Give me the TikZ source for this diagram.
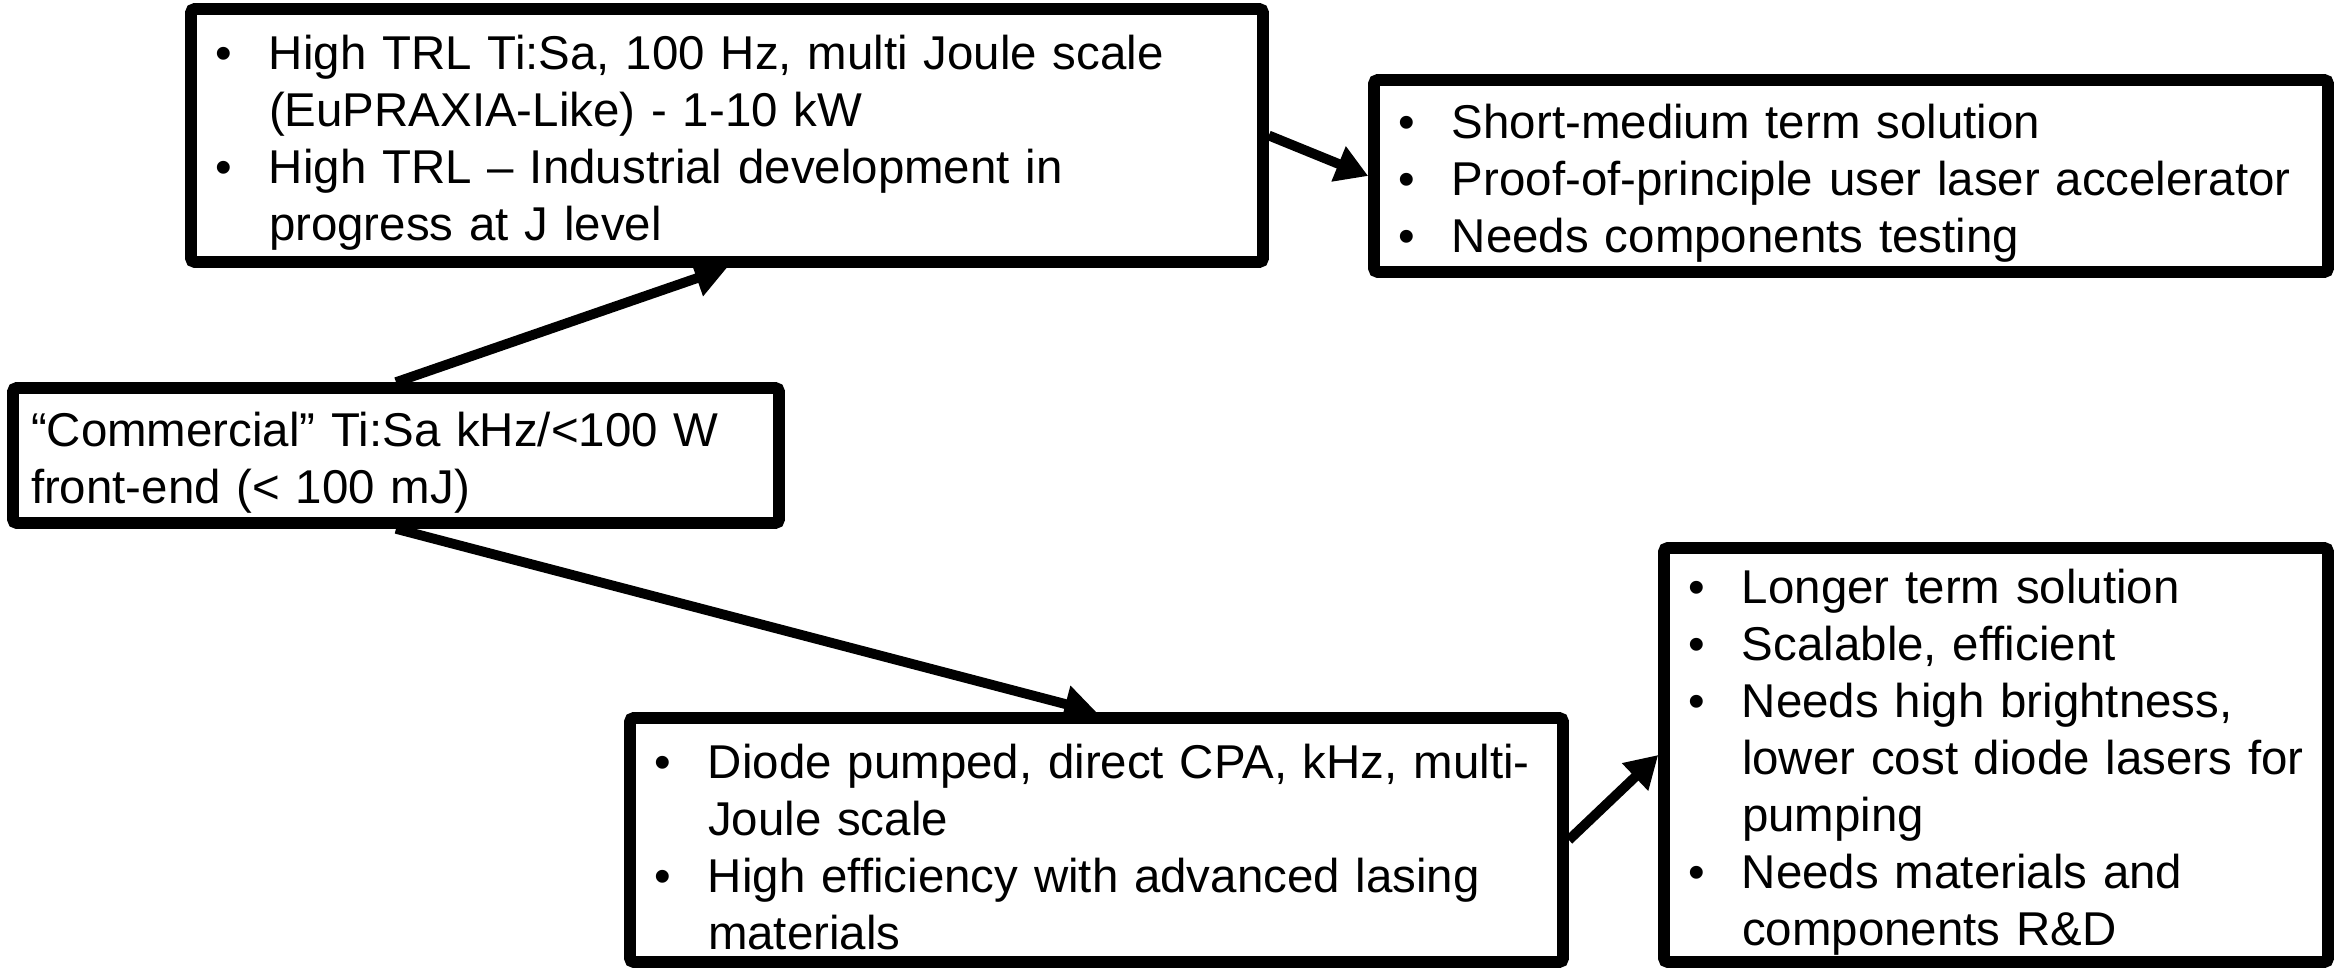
\documentclass[tikz,border=0pt]{standalone}
\usepackage{fontspec}
\setmainfont{Liberation Sans}
\usetikzlibrary{arrows.meta}

\newcommand{\bpt}[1]{\makebox[0.54cm][l]{\textbullet}\mbox{#1}}
\newcommand{\cnt}[1]{\hspace*{0.54cm}\mbox{#1}}

\tikzset{
    box/.style={draw, line width=3.3pt, rounded corners=1pt, fill=white, inner sep=0pt,
        align=left, font=\fontsize{13.5}{16.2}\selectfont,
        execute at begin node={\rule{0pt}{14pt}}},
    arr/.style={line width=2.8pt, -{Triangle[length=0.32cm,width=0.36cm]}}
}

\begin{document}
\begin{tikzpicture}
    \useasboundingbox (0,0) rectangle (23.36,9.73);

    \node[box, minimum width=10.72cm, minimum height=2.53cm, text width=10.24cm] (trl) at (7.27,8.375)
        {\bpt{High TRL Ti:Sa, 100 Hz, multi Joule scale}\\
         \cnt{(EuPRAXIA-Like) - 1-10 kW}\\
         \bpt{High TRL – Industrial development in}\\
         \cnt{progress at J level}};
    \node[box, minimum width=7.66cm, minimum height=1.35cm, text width=7.30cm] (front) at (3.96,5.175)
        {“Commercial” Ti:Sa kHz/<100 W\\front-end (< 100 mJ)};
    \node[box, minimum width=9.54cm, minimum height=1.92cm, text width=9.06cm] (short) at (18.51,7.97)
        {\bpt{Short-medium term solution}\\
         \bpt{Proof-of-principle user laser accelerator}\\
         \bpt{Needs components testing}};
    \node[box, minimum width=9.33cm, minimum height=2.44cm, text width=8.85cm] (diode) at (10.965,1.33)
        {\bpt{Diode pumped, direct CPA, kHz, multi-}\\
         \cnt{Joule scale}\\
         \bpt{High efficiency with advanced lasing}\\
         \cnt{materials}};
    \node[box, minimum width=6.64cm, minimum height=4.14cm, text width=6.16cm] (long) at (19.96,2.18)
        {\bpt{Longer term solution}\\
         \bpt{Scalable, efficient}\\
         \bpt{Needs high brightness,}\\
         \cnt{lower cost diode lasers for}\\
         \cnt{pumping}\\
         \bpt{Needs materials and}\\
         \cnt{components R\&D}};

    \draw[arr] (front.north) -- (trl.south);
    \draw[arr] (trl.east) -- (short.west);
    \draw[arr] (front.south) -- (diode.north);
    \draw[arr] (diode.east) -- (long.west);
\end{tikzpicture}
\end{document}
